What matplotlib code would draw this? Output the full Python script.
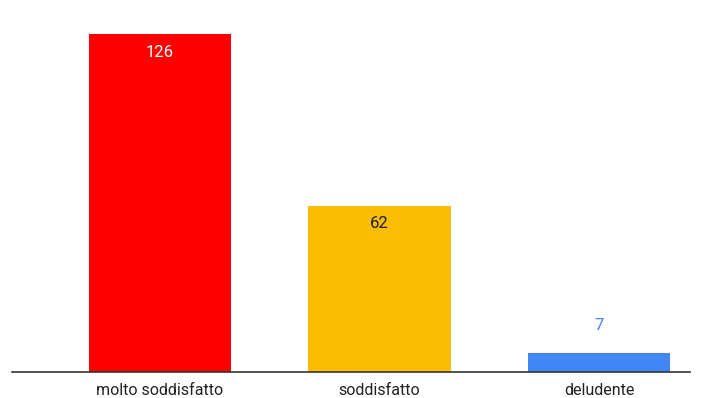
import matplotlib.pyplot as plt

plt.rcParams["font.family"] = ["Roboto", "DejaVu Sans"]

categories = ["molto soddisfatto", "soddisfatto", "deludente"]
counts = [126, 62, 7]
bar_colors = ["#ff0000", "#fbbc04", "#4285f4"]
label_colors = ["#ffffff", "#202124", "#4285f4"]
label_inside = [True, True, False]

fig = plt.figure(figsize=(7.05, 3.98), dpi=100)
ax = fig.add_axes([0.0, 26 / 398, 1.0, 1 - 26 / 398 - 10 / 398])

x = list(range(len(categories)))
bars = ax.bar(x, counts, width=0.65, color=bar_colors, zorder=2)

for b, v, c, inside in zip(bars, counts, label_colors, label_inside):
    off = -13 if inside else 20
    ax.annotate(str(v), (b.get_x() + b.get_width() / 2, v),
                xytext=(0, off), textcoords="offset points",
                ha="center", va="center", fontsize=12, color=c)

xmin = -160 / 219.5
xmax = xmin + 705 / 219.5
ax.set_xlim(xmin, xmax)
ax.set_ylim(0, 126 * 1.0 / (338 / 362))
ax.set_xticks(x)
ax.set_xticklabels(categories, fontsize=11.5, color="#222222")
ax.tick_params(axis="x", length=0, pad=8)
ax.set_yticks([])
for sp in ["top", "right", "left"]:
    ax.spines[sp].set_visible(False)
ax.spines["bottom"].set_color("#333333")
ax.spines["bottom"].set_linewidth(1.2)
ax.spines["bottom"].set_bounds(xmin + 12 / 219.5, xmin + 690 / 219.5)
ax.spines["bottom"].set_zorder(3)

fig.savefig("out.png", dpi=100)
